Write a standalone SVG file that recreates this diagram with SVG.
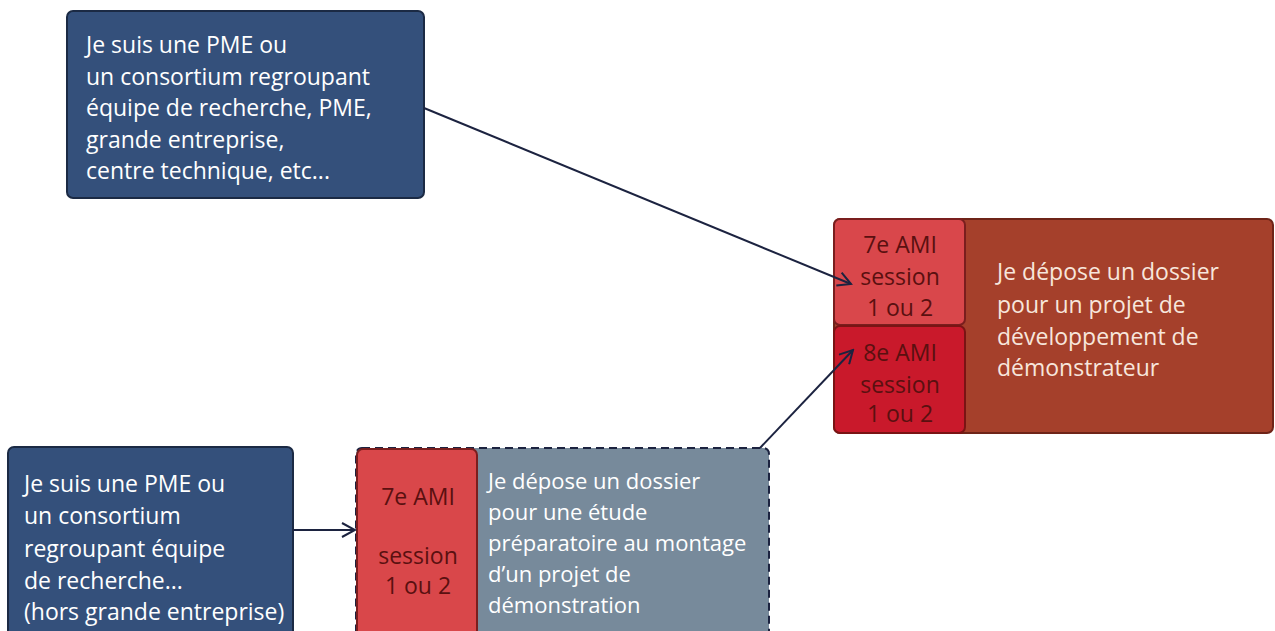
<svg xmlns="http://www.w3.org/2000/svg" width="1275" height="631" viewBox="0 0 1275 631">
<defs>
<style>
.t{font-family:"Open Sans","Noto Sans",sans-serif;font-size:23px}
.s{font-size:22px}
.w{fill:#ffffff}
.dr{fill:#5a1010;text-anchor:middle}
.rl{fill:#f7e6dc}
.blue{fill:#34507b;stroke:#1b2a44;stroke-width:2}
.conn{stroke:#1c2340;stroke-width:2;fill:none}
</style>
<marker id="arr" viewBox="0 0 16 16" refX="14" refY="8" markerWidth="16" markerHeight="16" markerUnits="userSpaceOnUse" orient="auto">
<path d="M1,1 L14,8 L1,15" fill="none" stroke="#1c2340" stroke-width="2"/>
</marker>
</defs>
<rect width="1275" height="631" fill="#ffffff"/>
<g id="node-pme-consortium">
<rect class="blue" x="67" y="11" width="357" height="187" rx="6"/>
<text class="t w" x="86" y="53">Je suis une PME ou</text>
<text class="t w" x="86" y="85">un consortium regroupant</text>
<text class="t w" x="86" y="116">équipe de recherche, PME,</text>
<text class="t w" x="86" y="148">grande entreprise,</text>
<text class="t w" x="86" y="179">centre technique, etc...</text>
</g>
<g id="node-demonstrateur">
<rect x="834" y="219" width="439" height="214" rx="6" fill="#a5402b" stroke="#6e2418" stroke-width="2"/>
<rect x="834" y="219" width="131" height="106" rx="6" fill="#d9474b" stroke="#7a1e1e" stroke-width="2"/>
<rect x="834" y="326" width="131" height="107" rx="6" fill="#c9192b" stroke="#7a1414" stroke-width="2"/>
<text class="t dr" x="900" y="253">7e AMI</text>
<text class="t dr" x="900" y="285">session</text>
<text class="t dr" x="900" y="316">1 ou 2</text>
<text class="t dr" x="900" y="361">8e AMI</text>
<text class="t dr" x="900" y="393">session</text>
<text class="t dr" x="900" y="422">1 ou 2</text>
<text class="t rl" x="997" y="280">Je dépose un dossier</text>
<text class="t rl" x="997" y="313">pour un projet de</text>
<text class="t rl" x="997" y="345">développement de</text>
<text class="t rl" x="997" y="376">démonstrateur</text>
</g>
<g id="node-pme-hors">
<rect class="blue" x="8" y="447" width="285" height="200" rx="6"/>
<text class="t w" x="24" y="492">Je suis une PME ou</text>
<text class="t w" x="24" y="524">un consortium</text>
<text class="t w" x="24" y="557">regroupant équipe</text>
<text class="t w" x="24" y="589">de recherche...</text>
<text class="t w" x="24" y="620">(hors grande entreprise)</text>
</g>
<g id="node-etude">
<rect x="356" y="448" width="413" height="200" rx="6" fill="#778a9b" stroke="#1c2340" stroke-width="2" stroke-dasharray="8,5"/>
<rect x="357" y="449" width="120" height="200" rx="6" fill="#d9474a" stroke="#7a1e1e" stroke-width="2"/>
<text class="t dr" x="418" y="505">7e AMI</text>
<text class="t dr" x="418" y="564">session</text>
<text class="t dr" x="418" y="594">1 ou 2</text>
<text class="t s w" x="488" y="489">Je dépose un dossier</text>
<text class="t s w" x="488" y="520">pour une étude</text>
<text class="t s w" x="488" y="551">préparatoire au montage</text>
<text class="t s w" x="488" y="582">d’un projet de</text>
<text class="t s w" x="488" y="613">démonstration</text>
</g>
<g id="connectors">
<line class="conn" x1="424" y1="108" x2="851" y2="284" marker-end="url(#arr)"/>
<line class="conn" x1="760" y1="448" x2="853" y2="350" marker-end="url(#arr)"/>
<line class="conn" x1="293" y1="530" x2="355" y2="530" marker-end="url(#arr)"/>
</g>
</svg>
